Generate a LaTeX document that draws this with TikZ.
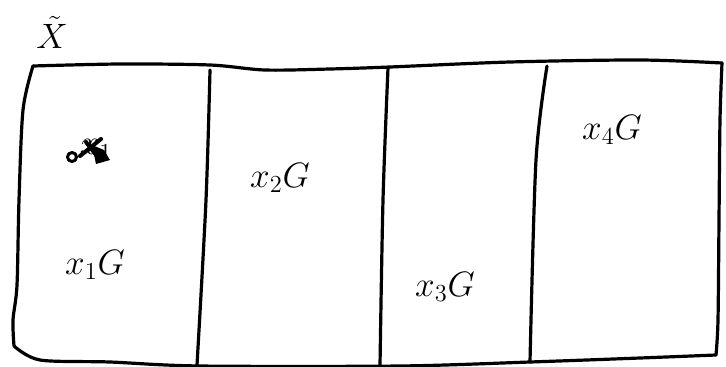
\documentclass[tikz,border=0pt]{standalone}
\usepackage{amsmath, amssymb}
\usepackage{tikz}
\usetikzlibrary{positioning, calc}

\begin{document}
\begin{tikzpicture}[x=1pt, y=-1pt, line width=3.2pt, line cap=round, line join=round,
    cell/.style={font=\huge, scale=1.7, inner sep=1pt}]
  \useasboundingbox (0,0) rectangle (726,367);
  % outline of the space
  \draw plot[smooth] coordinates {(33,66) (120,64) (210,65) (265,70) (330,69) (390,67)
      (510,62) (640,60) (722,63)};
  \draw plot[smooth] coordinates {(722,63) (720,120) (719,220) (718,320) (716,355)};
  \draw plot[smooth] coordinates {(716,355) (640,358) (530,362) (400,366) (200,366)
      (110,362) (40,360) (14,346)};
  \draw plot[smooth] coordinates {(14,346) (13,320) (17,285) (19,200) (23,110) (33,66)};
  % cells
  \draw plot[smooth] coordinates {(210,70) (206,200) (197,365)};
  \draw plot[smooth] coordinates {(388,68) (383,200) (380,366)};
  \draw plot[smooth] coordinates {(547,66) (536,160) (530,362)};
  \node (Xt) at (52,32) [font=\huge, scale=1.7] {$\tilde{X}$};
  \node (g1) at (95,265) [cell] {$x_1G$};
  \node (g2) at (280,178) [cell] {$x_2G$};
  \node (g3) at (445,287) [cell] {$x_3G$};
  \node (g4) at (612,130) [cell] {$x_4G$};
  % point with struck label
  \draw[line width=3pt] (72,157) circle (4.5);
  \node (p) at (96,150) [cell] {$x_1$};
  \fill (92,145) -- (104,150) -- (110,160) -- (96,164) -- cycle;
  \draw[line width=4pt] (80,156) -- (101,139);
  \draw[line width=4pt] (86,142) -- (100,160);
\end{tikzpicture}
\end{document}
